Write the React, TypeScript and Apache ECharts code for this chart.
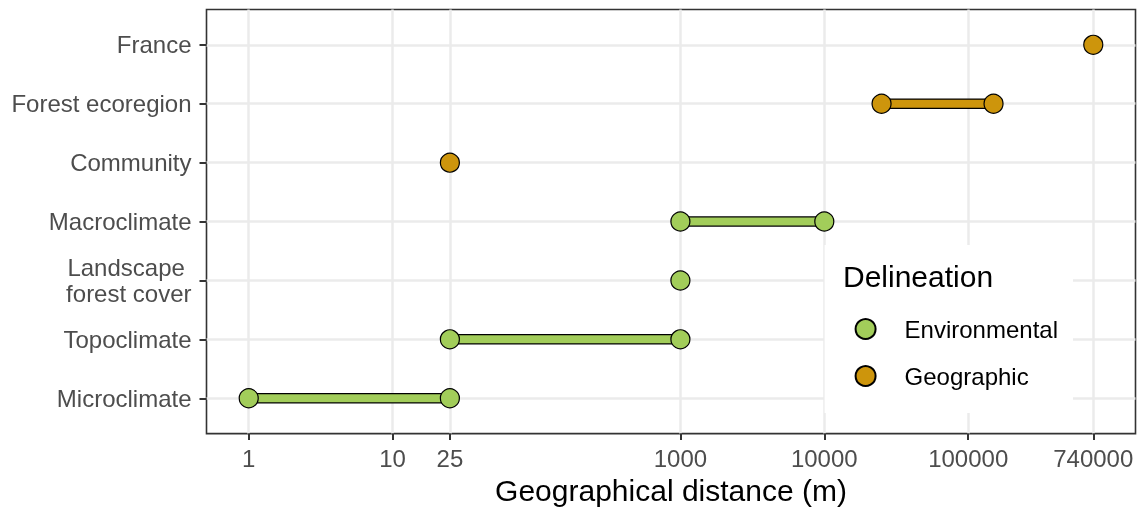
import React, { useEffect, useRef } from "react";
import * as echarts from "echarts";

// Categories from bottom to top of the chart
const categories = [
  "Microclimate",
  "Topoclimate",
  "Landscape \nforest cover",
  "Macroclimate",
  "Community",
  "Forest ecoregion",
  "France",
];
const fromDistance = [1, 25, 1000, 1000, 25, 25000, 740000];
const toDistance = [25, 1000, 1000, 10000, 25, 150000, 740000];
const delineation = [
  "Environmental",
  "Environmental",
  "Environmental",
  "Environmental",
  "Geographic",
  "Geographic",
  "Geographic",
];
const groups = ["Environmental", "Geographic"];
const groupColors = ["#A2CD5A", "#CD950C"];
const xTickValues = [1, 10, 25, 1000, 10000, 100000, 740000];

const FONT = "'Liberation Sans', Arial, sans-serif";

export default function App() {
  const ref = useRef<HTMLDivElement>(null);

  useEffect(() => {
    if (!ref.current) return;
    const chart = echarts.init(ref.current, undefined, { renderer: "svg" });

    const lx = (v: number) => Math.log10(v);
    const allX = [...fromDistance, ...toDistance].map(lx);
    const xLo = Math.min(...allX);
    const xHi = Math.max(...allX);
    const xPad = (xHi - xLo) * 0.05;

    const segData: number[][] = [];
    categories.forEach((_, i) => {
      if (fromDistance[i] !== toDistance[i]) {
        segData.push([
          lx(fromDistance[i]),
          lx(toDistance[i]),
          i,
          groups.indexOf(delineation[i]),
        ]);
      }
    });

    const pointSeries = groups.map((g, gi) => {
      const pts: number[][] = [];
      categories.forEach((_, i) => {
        if (delineation[i] !== g) return;
        pts.push([lx(fromDistance[i]), i]);
        if (toDistance[i] !== fromDistance[i]) pts.push([lx(toDistance[i]), i]);
      });
      return {
        name: g,
        type: "scatter",
        data: pts,
        symbol: "circle",
        symbolSize: 19,
        z: 5,
        itemStyle: {
          color: groupColors[gi],
          borderColor: "#000",
          borderWidth: 1.2,
          opacity: 1,
        },
      };
    });

    const yTicks = categories.map((_, i) => i);
    const xTicks = xTickValues.map(lx);

    chart.setOption({
      animation: false,
      grid: {
        left: 206.5,
        top: 9.5,
        width: 929,
        height: 426.5,
        show: true,
        borderColor: "#333333",
        borderWidth: 1.6,
        backgroundColor: "transparent",
      },
      xAxis: {
        type: "value",
        min: xLo - xPad,
        max: xHi + xPad,
        name: "Geographical distance (m)",
        nameLocation: "middle",
        nameGap: 39,
        nameTextStyle: {
          fontFamily: FONT,
          fontSize: 30,
          color: "#000",
          lineHeight: 30,
        },
        axisLine: { show: false, onZero: false },
        axisTick: {
          show: true,
          customValues: xTicks,
          length: 6.5,
          lineStyle: { color: "#333333", width: 2 },
        },
        axisLabel: {
          customValues: xTicks,
          margin: 12.5,
          fontFamily: FONT,
          fontSize: 24,
          lineHeight: 24,
          color: "#4D4D4D",
          formatter: (v: number) => String(Math.round(Math.pow(10, v))),
        },
        splitLine: {
          show: true,
          lineStyle: { color: "#EBEBEB", width: 2.5 },
        },
      },
      yAxis: {
        type: "value",
        min: -0.6,
        max: categories.length - 1 + 0.6,
        axisLine: { show: false, onZero: false },
        axisTick: {
          show: true,
          customValues: yTicks,
          length: 7,
          lineStyle: { color: "#333333", width: 2 },
        },
        axisLabel: {
          customValues: yTicks,
          margin: 15,
          fontFamily: FONT,
          fontSize: 24,
          lineHeight: 26,
          color: "#4D4D4D",
          align: "right",
          formatter: (v: number) => categories[Math.round(v)] ?? "",
        },
        splitLine: {
          show: true,
          lineStyle: { color: "#EBEBEB", width: 2.5 },
        },
      },
      legend: {
        data: groups,
        orient: "vertical",
        right: 69,
        top: 245,
        padding: [72, 15, 25, 30],
        backgroundColor: "#ffffff",
        itemWidth: 20,
        itemHeight: 20,
        itemGap: 23,
        symbolKeepAspect: true,
        selectedMode: false,
        textStyle: {
          fontFamily: FONT,
          fontSize: 24,
          lineHeight: 24,
          color: "#000",
          padding: [0, 0, 0, 24],
        },
      },
      graphic: [
        {
          type: "text",
          x: 843,
          y: 276,
          z: 100,
          style: {
            text: "Delineation",
            fontFamily: FONT,
            fontSize: 30,
            fill: "#000",
            verticalAlign: "middle",
            align: "left",
          },
        },
      ],
      series: [
        {
          type: "custom",
          name: "segments",
          data: segData,
          encode: { x: [0, 1], y: 2 },
          z: 3,
          renderItem: (params: any, api: any) => {
            const p1 = api.coord([api.value(0), api.value(2)]);
            const p2 = api.coord([api.value(1), api.value(2)]);
            const color = groupColors[api.value(3)];
            return {
              type: "group",
              children: [
                {
                  type: "line",
                  shape: { x1: p1[0], y1: p1[1], x2: p2[0], y2: p2[1] },
                  style: { stroke: "#000", lineWidth: 10.5, lineCap: "butt" },
                },
                {
                  type: "line",
                  shape: { x1: p1[0], y1: p1[1], x2: p2[0], y2: p2[1] },
                  style: { stroke: color, lineWidth: 8, lineCap: "butt" },
                },
              ],
            };
          },
        },
        ...pointSeries,
      ],
    });

    return () => chart.dispose();
  }, []);

  return (
    <div
      ref={ref}
      style={{ position: "fixed", left: 0, top: 0, width: 1142, height: 510 }}
    />
  );
}
